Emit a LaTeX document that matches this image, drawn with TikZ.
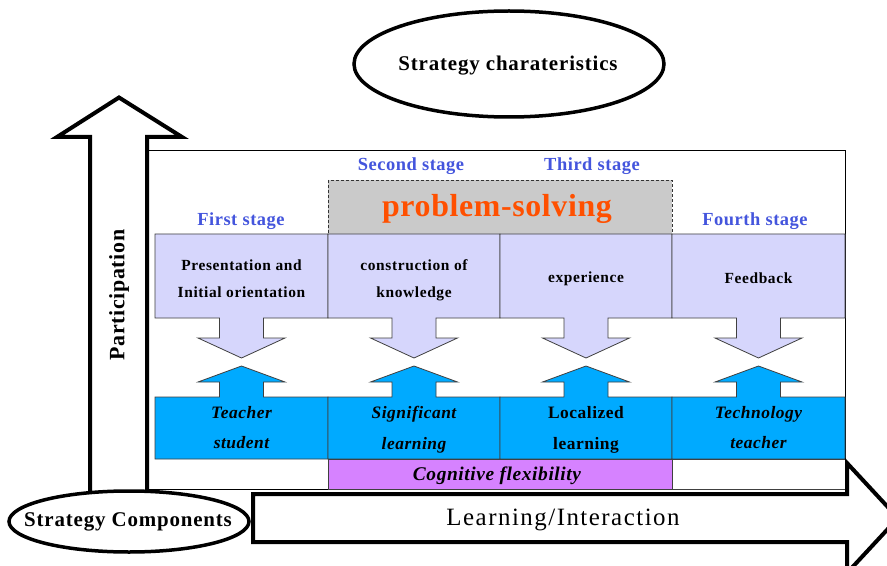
\documentclass[tikz,border=0pt]{standalone}
\usepackage{fontspec}
\setmainfont{Liberation Serif}
\usetikzlibrary{shapes.geometric}
\definecolor{stageblue}{RGB}{68,85,221}
\definecolor{psorange}{RGB}{255,80,0}
\definecolor{lav}{RGB}{214,214,252}
\definecolor{cyanb}{RGB}{0,170,255}
\definecolor{purp}{RGB}{214,130,255}
\definecolor{psgray}{RGB}{202,202,202}
\tikzset{
  bigarrow/.style={draw=black, line width=4bp, fill=white, line join=miter},
  oval/.style={draw=black, line width=3.5bp, fill=white},
  topcell/.style={fill=lav, draw=black!75, line width=0.8bp},
  botcell/.style={fill=cyanb, draw=black!75, line width=0.8bp},
  ovaltxt/.style={inner sep=0pt, font=\fontsize{21}{24}\selectfont\bfseries\addfontfeature{LetterSpace=4}},
  stagelbl/.style={text=stageblue, inner sep=0pt, font=\fontsize{18.5}{20}\selectfont\bfseries\addfontfeature{LetterSpace=3}},
  toptxt/.style={align=center, inner sep=0pt, font=\fontsize{15.5}{27}\selectfont\bfseries\addfontfeature{LetterSpace=4}},
  bottxt/.style={align=center, inner sep=0pt, font=\fontsize{17.5}{31}\selectfont\bfseries\itshape\addfontfeature{LetterSpace=3}},
  botup/.style={align=center, inner sep=0pt, font=\fontsize{17.5}{31}\selectfont\bfseries\addfontfeature{LetterSpace=3}},
}
\begin{document}
\begin{tikzpicture}[x=1bp,y=-1bp]
\clip (0,0) rectangle (887,566);
\fill[white] (0,0) rectangle (887,566);

% participation arrow
\draw[bigarrow] (90,497) -- (90,137) -- (57,137) -- (119,97.5) -- (182,137) -- (147,137) -- (147,497);

% frame
\draw[black, line width=0.9bp] (148,150) rectangle (845,489);

% problem-solving box
\draw[fill=psgray, draw=black!80, line width=0.8bp, dash pattern=on 3bp off 2bp] (328,180) rectangle (672,234);

% top cells with down arrows
\foreach \xl/\xr/\cx in {155/328/241.5, 328/500/414, 500/672/586, 672/845/758.5}{
  \draw[topcell] (\xl,234) -- (\xr,234) -- (\xr,318) -- (\cx+22,318) -- (\cx+22,338) -- (\cx+43.5,338)
     -- (\cx,358) -- (\cx-43.5,338) -- (\cx-22,338) -- (\cx-22,318) -- (\xl,318) -- cycle;
  \draw[botcell] (\xl,397) -- (\cx-22,397) -- (\cx-22,382) -- (\cx-43.5,382) -- (\cx,366)
     -- (\cx+43.5,382) -- (\cx+22,382) -- (\cx+22,397) -- (\xr,397) -- (\xr,459) -- (\xl,459) -- cycle;
}

% bottom row
\draw[fill=purp, draw=black!75, line width=0.8bp] (328,459) rectangle (672,489);
\draw[draw=black!75, line width=0.8bp] (672,459) rectangle (845,489);

% learning arrow
\draw[bigarrow] (253,494) -- (847,494) -- (847,463) -- (898,518) -- (847,573) -- (847,542) -- (253,542) -- cycle;

% ellipses
\draw[oval] (509,64) ellipse [x radius=155, y radius=53];
\node[ovaltxt] (chars) at (508,66) {Strategy charateristics};
\draw[oval] (129,521.5) ellipse [x radius=120, y radius=30.5];
\node[ovaltxt] (comps) at (128,522) {Strategy Components};

% arrow labels
\node[inner sep=0pt, font=\fontsize{25}{28}\selectfont\addfontfeature{LetterSpace=6}] (learn) at (563,520) {Learning/Interaction};
\node[inner sep=0pt, rotate=90, font=\fontsize{22}{24}\selectfont\bfseries\addfontfeature{LetterSpace=3}] (part) at (119,295) {Participation};

% stage labels
\node[stagelbl] (s1) at (241,221) {First stage};
\node[stagelbl] (s2) at (411,166) {Second stage};
\node[stagelbl] (s3) at (592,166) {Third stage};
\node[stagelbl] (s4) at (755,221) {Fourth stage};

\node[inner sep=0pt, text=psorange, font=\fontsize{32}{34}\selectfont\bfseries\addfontfeature{LetterSpace=2}] (ps) at (497,209) {problem-solving};

% top texts
\node[toptxt] (t1) at (241.5,278.5) {Presentation and\\Initial orientation};
\node[toptxt] (t2) at (414,280.5) {construction of\\knowledge};
\node[toptxt] (t3) at (586,279) {experience};
\node[toptxt] (t4) at (758.5,278) {Feedback};

% bottom texts
\node[bottxt] (b1) at (241.5,427.5) {Teacher\\student};
\node[bottxt] (b2) at (414,429.5) {Significant\\learning};
\node[botup] (b3) at (586,429.5) {Localized\\learning};
\node[bottxt] (b4) at (758.5,427.5) {Technology\\teacher};

\node[inner sep=0pt, font=\fontsize{19.5}{22}\selectfont\bfseries\itshape\addfontfeature{LetterSpace=3}] (cog) at (497,476) {Cognitive flexibility};
\end{tikzpicture}
\end{document}
